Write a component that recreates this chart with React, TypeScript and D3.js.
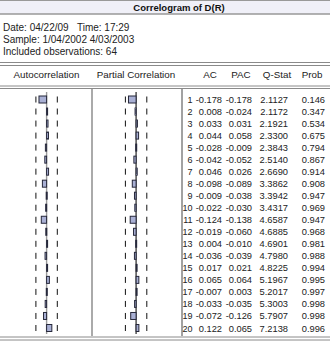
import React from "react";
import * as d3 from "d3";

// Correlogram of D(R): autocorrelations and partial autocorrelations, lags 1..20
const lags = d3.range(1, 21);
const ac = [-0.178, 0.008, 0.033, 0.044, -0.028, -0.042, 0.046, -0.098, -0.009, -0.022,
  -0.124, -0.019, 0.004, -0.036, 0.017, 0.065, -0.007, -0.033, -0.072, 0.122];
const pac = [-0.178, -0.024, 0.031, 0.058, -0.009, -0.052, 0.026, -0.089, -0.038, -0.030,
  -0.138, -0.060, -0.010, -0.039, 0.021, 0.064, 0.003, -0.035, -0.126, 0.065];
const qStat = ["2.1127", "2.1172", "2.1921", "2.3300", "2.3843", "2.5140", "2.6690", "3.3862", "3.3942", "3.4317",
  "4.6587", "4.6885", "4.6901", "4.7980", "4.8225", "5.1967", "5.2017", "5.3003", "5.7907", "7.2138"];
const prob = ["0.146", "0.347", "0.534", "0.675", "0.794", "0.867", "0.914", "0.908", "0.947", "0.969",
  "0.947", "0.968", "0.981", "0.988", "0.994", "0.995", "0.997", "0.998", "0.998", "0.996"];
const nObs = 64;
const headerLines = ["Date: 04/22/09\u00a0\u00a0\u00a0Time: 17:29", "Sample: 1/04/2002 4/03/2003", "Included observations: 64"];
const columnHeads = ["Autocorrelation", "Partial Correlation", "AC", "PAC", "Q-Stat", "Prob"];

const W = 330;
const H = 344;
const FONT = "'Liberation Sans', Arial, sans-serif";
const BAR_FILL = "#a9b0d4";
const BAR_STROKE = "#26283a";

const fmt = (v: number) => (v < 0 ? "-" : "") + Math.abs(v).toFixed(3);

export default function App() {
  const bound = 2 / Math.sqrt(nObs);
  const y = d3.scaleLinear().domain([1, 20]).range([99.5, 328]);
  const xAc = d3.scaleLinear().domain([-bound, bound]).range([35.9, 57.3]);
  const xPac = d3.scaleLinear().domain([-bound, bound]).range([125.4, 146.8]);
  const barH = 7;
  const dashH = 6;

  const panel = (x: d3.ScaleLinear<number, number>, vals: number[], axisColor: string, key: string) => (
    <g key={key}>
      <line x1={x(0)} x2={x(0)} y1={92} y2={334} stroke={axisColor} strokeWidth={1.4} />
      {lags.map((lag) => (
        <g key={lag}>
          {[-bound, bound].map((b) => (
            <line key={b} x1={x(b)} x2={x(b)} y1={y(lag) - dashH / 2} y2={y(lag) + dashH / 2}
              stroke="#111" strokeWidth={1} />
          ))}
        </g>
      ))}
      {vals.map((v, i) => {
        const x0 = Math.min(x(0), x(v));
        const w = Math.max(Math.abs(x(v) - x(0)), 1);
        return (
          <rect key={i} x={x0} y={y(lags[i]) - barH / 2} width={w} height={barH}
            fill={BAR_FILL} stroke={BAR_STROKE} strokeWidth={1} />
        );
      })}
    </g>
  );

  const numCols = [
    { x: 192.5, size: 9, get: (i: number) => String(lags[i]) },
    { x: 222, size: 9.3, get: (i: number) => fmt(ac[i]) },
    { x: 252, size: 9.3, get: (i: number) => fmt(pac[i]) },
    { x: 288, size: 9.3, get: (i: number) => qStat[i] },
    { x: 325, size: 9.3, get: (i: number) => prob[i] },
  ];
  const headX = [46.5, 136, 210, 241, 277, 312];

  return (
    <svg width={W} height={H} style={{ position: "absolute", left: 0, top: 0, background: "#fff" }}
      fontFamily={FONT}>
      <rect x={0} y={0} width={W} height={H} fill="#fff" />
      {/* title bar */}
      <rect x={0} y={0.5} width={W} height={13.5} fill="#f0f0f8" />
      <line x1={0} x2={W} y1={0.5} y2={0.5} stroke="#999" strokeWidth={1} />
      <line x1={0} x2={W} y1={14} y2={14} stroke="#999" strokeWidth={1.5} />
      <text x={179} y={11} textAnchor="middle" fontSize={9.5} fontWeight="bold" fill="#111">
        Correlogram of D(R)
      </text>
      {headerLines.map((t, i) => (
        <text key={i} x={3} y={31 + i * 12} fontSize={10} fill="#222">{t}</text>
      ))}
      {/* header rules */}
      {[62.5, 65.5, 86, 88.5, 337, 340].map((yy, i) => (
        <line key={i} x1={0} x2={W} y1={yy} y2={yy} stroke="#8a8a8a" strokeWidth={1} />
      ))}
      {columnHeads.map((t, i) => (
        <text key={t} x={headX[i]} y={78} textAnchor="middle" fontSize={9.8} fill="#222">{t}</text>
      ))}
      {/* separators */}
      <line x1={92} x2={92} y1={89} y2={336} stroke="#aaa" strokeWidth={2} />
      <line x1={182} x2={182} y1={89} y2={336} stroke="#444" strokeWidth={1} />
      {panel(xAc, ac, "#9a9a9a", "ac")}
      {panel(xPac, pac, "#444", "pac")}
      {lags.map((lag, i) => (
        <g key={lag}>
          {numCols.map((c, j) => (
            <text key={j} x={c.x} y={y(lag) + 3.5} textAnchor="end" fontSize={c.size} fill="#222">
              {c.get(i)}
            </text>
          ))}
        </g>
      ))}
    </svg>
  );
}
